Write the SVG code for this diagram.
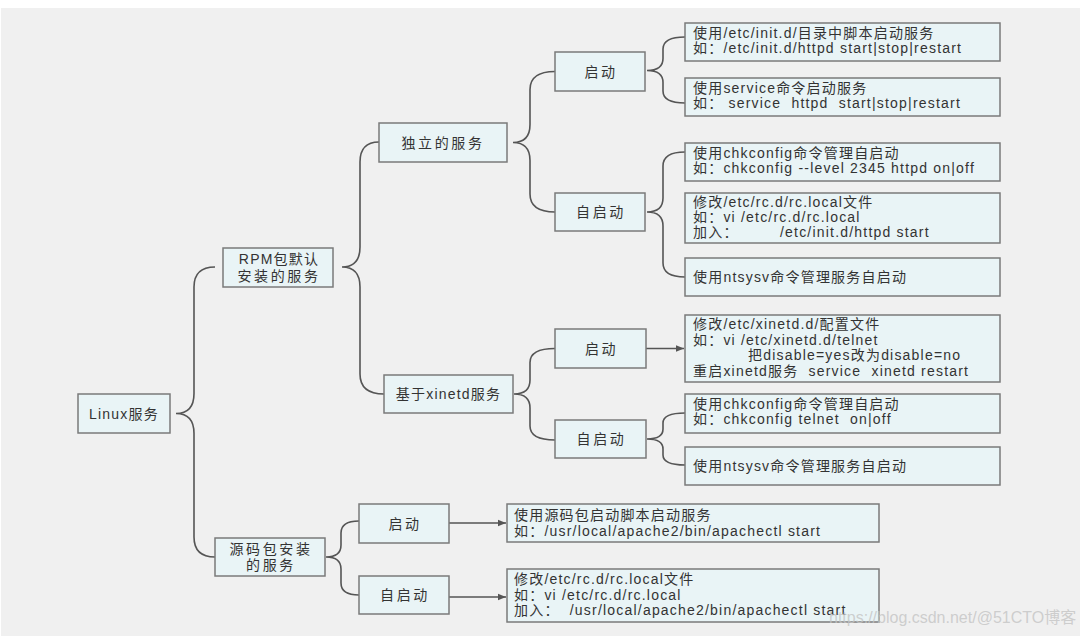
<svg xmlns="http://www.w3.org/2000/svg" width="1082" height="637" viewBox="0 0 1082 637">
<defs>
<style>
.box{fill:#e9f4f6;stroke:#7a7a7a;stroke-width:1.5}
.t{font-family:"Liberation Sans","Noto Sans CJK SC",sans-serif;font-size:14px;fill:#333;letter-spacing:1.2px;white-space:pre}
.w{letter-spacing:2.6px}
.m{text-anchor:middle}
.ln{fill:none;stroke:#555;stroke-width:1.6}
.wm{font-family:"Liberation Sans","Noto Sans CJK SC",sans-serif;font-size:16px;fill:#c4c4c4;fill-opacity:0.8}
</style>
<marker id="ah" viewBox="0 0 10 10" refX="10" refY="5" markerWidth="8" markerHeight="8" markerUnits="userSpaceOnUse" orient="auto">
<path d="M0,1 L10,5 L0,9 Z" fill="#555"/>
</marker>
</defs>
<rect x="0" y="0" width="1082" height="637" fill="#ffffff"/>
<rect x="1" y="8" width="1079" height="628" fill="#f0f0f0"/>

<g id="connectors">
<path class="ln" d="M215,267 Q194,267 194,287 L194,393.5 Q194,413.5 176,413.5 Q194,413.5 194,433.5 L194,537 Q194,557 215,557"/>
<path class="ln" d="M379,142 Q360,142 360,162 L360,247 Q360,267 342,267 Q360,267 360,287 L360,374 Q360,394 384,394"/>
<path class="ln" d="M555,71.5 Q530,71.5 530,89.5 L530,124.5 Q530,142.5 513,142.5 Q530,142.5 530,160.5 L530,194 Q530,212 555,212"/>
<path class="ln" d="M685,37 Q663,37 663,49 L663,58.5 Q663,70.5 647,70.5 Q663,70.5 663,82.5 L663,91 Q663,103 685,103"/>
<path class="ln" d="M685,152 Q663,152 663,166 L663,198 Q663,212 647,212 Q663,212 663,226 L663,263 Q663,277 685,277"/>
<path class="ln" d="M555,348.5 Q530,348.5 530,362.5 L530,380 Q530,394 514,394 Q530,394 530,408 L530,426 Q530,440 555,440"/>
<path class="ln" d="M685,413 Q663,413 663,423 L663,429 Q663,439 647,439 Q663,439 663,449 L663,455 Q663,465 685,465"/>
<path class="ln" d="M359,521 Q341,521 341,533 L341,545 Q341,557 326,557 Q341,557 341,569 L341,583 Q341,595 359,595"/>
<path class="ln" d="M646,348.5 L684,348.5" marker-end="url(#ah)"/>
<path class="ln" d="M449,523 L506,523" marker-end="url(#ah)"/>
<path class="ln" d="M449,597 L506,597" marker-end="url(#ah)"/>
</g>

<g id="linux"><rect class="box" x="78" y="394" width="92" height="39"/><text class="t m" x="124" y="418.5">Linux服务</text></g>
<g id="rpm"><rect class="box" x="223" y="248" width="110" height="39"/><text class="t m" x="279" y="264">RPM包默认</text><text class="t m w" x="279" y="281">安装的服务</text></g>
<g id="src"><rect class="box" x="215" y="538" width="110" height="38"/><text class="t m w" x="271" y="554">源码包安装</text><text class="t m w" x="271" y="570">的服务</text></g>
<g id="indep"><rect class="box" x="379" y="123" width="128" height="39"/><text class="t m w" x="443" y="147.5">独立的服务</text></g>
<g id="xinetd"><rect class="box" x="384" y="375" width="129" height="38"/><text class="t m" x="448.5" y="399">基于xinetd服务</text></g>
<g id="indep-start"><rect class="box" x="555" y="52" width="90" height="39"/><text class="t m w" x="601" y="76.5">启动</text></g>
<g id="indep-auto"><rect class="box" x="555" y="193" width="90" height="38"/><text class="t m w" x="601" y="217">自启动</text></g>
<g id="xinetd-start"><rect class="box" x="555" y="329" width="91" height="39"/><text class="t m w" x="601.5" y="353.5">启动</text></g>
<g id="xinetd-auto"><rect class="box" x="555" y="420" width="91" height="38"/><text class="t m w" x="601.5" y="444">自启动</text></g>
<g id="src-start"><rect class="box" x="359" y="504" width="90" height="39"/><text class="t m w" x="405" y="528.5">启动</text></g>
<g id="src-auto"><rect class="box" x="359" y="576" width="90" height="38"/><text class="t m w" x="405" y="600">自启动</text></g>

<g id="leaf-a"><rect class="box" x="685" y="23" width="315" height="38"/><text class="t" x="693" y="38">使用/etc/init.d/目录中脚本启动服务</text><text class="t" x="693" y="53">如：/etc/init.d/httpd start|stop|restart</text></g>
<g id="leaf-b"><rect class="box" x="685" y="78" width="315" height="38"/><text class="t" x="693" y="93">使用service命令启动服务</text><text class="t" x="693" y="108">如： service  httpd  start|stop|restart</text></g>
<g id="leaf-c"><rect class="box" x="685" y="143" width="315" height="38"/><text class="t" x="693" y="158">使用chkconfig命令管理自启动</text><text class="t" x="693" y="173">如：chkconfig --level 2345 httpd on|off</text></g>
<g id="leaf-d"><rect class="box" x="685" y="193" width="315" height="50"/><text class="t" x="693" y="207">修改/etc/rc.d/rc.local文件</text><text class="t" x="693" y="222">如：vi /etc/rc.d/rc.local</text><text class="t" x="693" y="237">加入：</text><text class="t" x="780" y="237">/etc/init.d/httpd start</text></g>
<g id="leaf-e"><rect class="box" x="685" y="258" width="315" height="38"/><text class="t" x="693" y="282">使用ntsysv命令管理服务自启动</text></g>
<g id="leaf-f"><rect class="box" x="685" y="315" width="315" height="67"/><text class="t" x="693" y="329">修改/etc/xinetd.d/配置文件</text><text class="t" x="693" y="345">如：vi /etc/xinetd.d/telnet</text><text class="t" x="748" y="360">把disable=yes改为disable=no</text><text class="t" x="693" y="376">重启xinetd服务  service  xinetd restart</text></g>
<g id="leaf-g"><rect class="box" x="685" y="394" width="315" height="39"/><text class="t" x="693" y="409">使用chkconfig命令管理自启动</text><text class="t" x="693" y="424">如：chkconfig telnet  on|off</text></g>
<g id="leaf-h"><rect class="box" x="685" y="447" width="315" height="38"/><text class="t" x="693" y="471">使用ntsysv命令管理服务自启动</text></g>
<g id="leaf-i"><rect class="box" x="507" y="504" width="372" height="38"/><text class="t" x="514" y="520">使用源码包启动脚本启动服务</text><text class="t" x="514" y="536">如：/usr/local/apache2/bin/apachectl start</text></g>
<g id="leaf-j"><rect class="box" x="507" y="569" width="372" height="53"/><text class="t" x="514" y="584">修改/etc/rc.d/rc.local文件</text><text class="t" x="514" y="600">如：vi /etc/rc.d/rc.local</text><text class="t" x="514" y="615">加入：  /usr/local/apache2/bin/apachectl start</text></g>

<text class="wm" x="829" y="623">https://blog.csdn.net/@51CTO博客</text>
</svg>
